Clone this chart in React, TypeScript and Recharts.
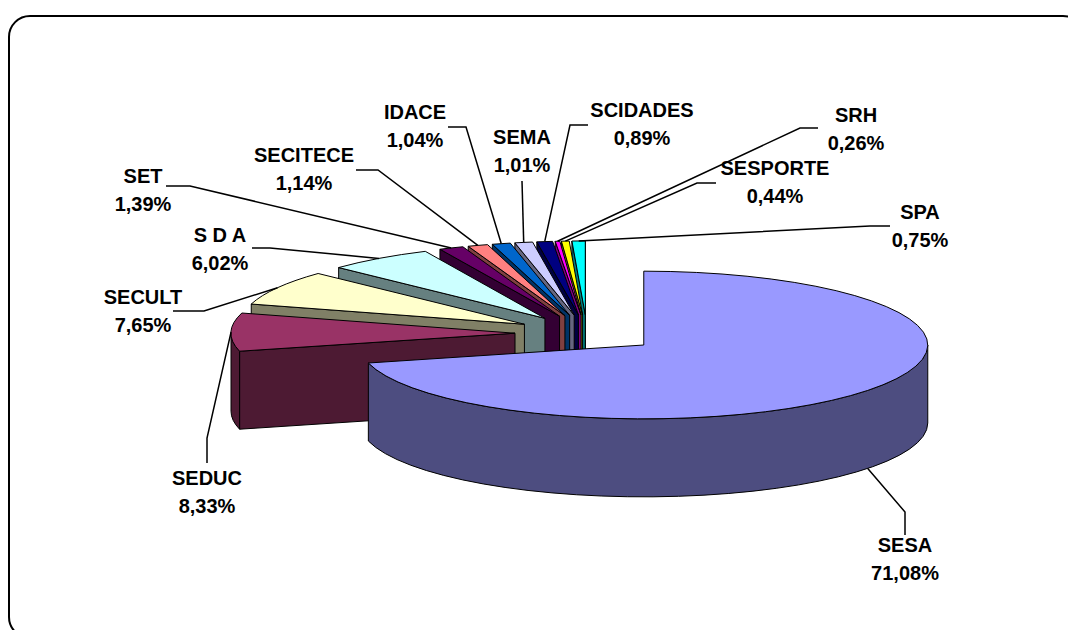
import { Pie, PieChart } from "recharts";

// drawn from the top of the stack to the front, so the list runs backwards round the pie
const names = ["SPA", "SESPORTE", "SRH", "SCIDADES", "SEMA", "IDACE", "SECITECE", "SET", "S D A", "SECULT", "SEDUC", "SESA"];
const shares = [0.75, 0.44, 0.26, 0.89, 1.01, 1.04, 1.14, 1.39, 6.02, 7.65, 8.33, 71.08];
const tops = ["#00FFFF", "#FFFF00", "#FF00FF", "#000080", "#CCCCFF", "#0066CC", "#FF8080", "#660066", "#CCFFFF", "#FFFFCC", "#993366", "#9999FF"];
const sides = ["#008080", "#808000", "#800080", "#000040", "#666680", "#003366", "#804040", "#330033", "#668080", "#808066", "#4D1A33", "#4D4D80"];

const rows = names.map((name, i) => ({ name, value: shares[i], top: tops[i], side: sides[i] }));

/* ---------- look of the tilted pie ---------- */
const WIDTH = 1068;
const HEIGHT = 630;
const CX = 587;
const CY = 333.5;
const RX = 284;
const SQUASH = 0.26;
const RY = RX * SQUASH;
const DEPTH = 78;
const EXPLODE = 72;

// label centre (x, y of the first line) and the elbow of its leader line
const labelSpots: Record<string, { x: number; y: number; line: number[][] }> = {
  SESA: { x: 905, y: 552, line: [[905, 535], [905, 512]] },
  SEDUC: { x: 207, y: 485, line: [[207, 463], [207, 438]] },
  SECULT: { x: 143, y: 304, line: [[173, 311], [204, 311]] },
  "S D A": { x: 220, y: 242, line: [[252, 248], [270, 248]] },
  SET: { x: 143, y: 183, line: [[166, 186], [190, 186]] },
  SECITECE: { x: 304, y: 162, line: [[356, 170], [378, 170]] },
  IDACE: { x: 415, y: 119, line: [[448, 127], [466, 127]] },
  SEMA: { x: 522, y: 144, line: [[522, 181], [522, 181]] },
  SCIDADES: { x: 642, y: 117, line: [[588, 125], [570, 125]] },
  SRH: { x: 856, y: 122, line: [[818, 128], [800, 128]] },
  SESPORTE: { x: 775, y: 175, line: [[716, 183], [697, 183]] },
  SPA: { x: 920, y: 219, line: [[890, 226], [870, 226]] },
};

const percent = (v: number) => `${v.toFixed(2).replace(".", ",")}%`;
const rad = (deg: number) => (deg * Math.PI) / 180;

const onRim = (ax: number, ay: number, deg: number) => [
  ax + RX * Math.cos(rad(deg)),
  ay - RY * Math.sin(rad(deg)),
];

const apexOf = (cx: number, cy: number, mid: number) => [
  cx + EXPLODE * Math.cos(rad(mid)),
  cy - EXPLODE * SQUASH * Math.sin(rad(mid)),
];

function Slice(props: any) {
  const { cx, cy, startAngle, endAngle, payload, name } = props;
  const a0 = Math.min(startAngle, endAngle);
  const a1 = Math.max(startAngle, endAngle);
  const row = payload ?? rows.find((r) => r.name === name);
  const [ax, ay] = apexOf(cx, cy, (a0 + a1) / 2);
  const [x0, y0] = onRim(ax, ay, a0);
  const [x1, y1] = onRim(ax, ay, a1);
  const big = a1 - a0 > 180 ? 1 : 0;

  // the part of the rim that faces the viewer is 180..360 degrees
  const f0 = Math.max(a0, 180);
  const f1 = Math.min(a1, 360);
  let rim = "";
  if (f1 > f0) {
    const [p0x, p0y] = onRim(ax, ay, f0);
    const [p1x, p1y] = onRim(ax, ay, f1);
    rim = `M${p0x},${p0y} A${RX},${RY} 0 0 0 ${p1x},${p1y} L${p1x},${p1y + DEPTH} A${RX},${RY} 0 0 1 ${p0x},${p0y + DEPTH} Z`;
  }

  const face = (x: number, y: number) =>
    `M${ax},${ay} L${x},${y} L${x},${y + DEPTH} L${ax},${ay + DEPTH} Z`;

  const common = { stroke: "#000", strokeWidth: 1, strokeLinejoin: "round" as const };
  return (
    <g>
      {Math.cos(rad(a0)) > 0 && <path d={face(x0, y0)} fill={row.side} {...common} />}
      {Math.cos(rad(a1)) < 0 && <path d={face(x1, y1)} fill={row.side} {...common} />}
      {rim && <path d={rim} fill={row.side} {...common} />}
      <path
        d={`M${ax},${ay} L${x0},${y0} A${RX},${RY} 0 ${big} 0 ${x1},${y1} Z`}
        fill={row.top}
        {...common}
      />
    </g>
  );
}

function SliceLabel(props: any) {
  const { cx, cy, midAngle, name, value } = props;
  const spot = labelSpots[name];
  if (!spot) return null;
  const [ax, ay] = apexOf(cx, cy, midAngle);
  const [ex, ey] = onRim(ax, ay, midAngle);
  const tip = midAngle > 180 && midAngle < 360 ? ey + DEPTH : ey;
  const pts = [...spot.line, [ex, tip]].map((p) => p.join(",")).join(" ");
  return (
    <g>
      <polyline points={pts} fill="none" stroke="#000" strokeWidth={1.5} />
      <text
        x={spot.x}
        y={spot.y}
        textAnchor="middle"
        fontFamily="Liberation Sans"
        fontWeight="bold"
        fontSize={20}
        fill="#000"
      >
        <tspan x={spot.x}>{name}</tspan>
        <tspan x={spot.x} dy={28}>{percent(value)}</tspan>
      </text>
    </g>
  );
}

export default function App() {
  return (
    <div style={{ position: "absolute", left: 0, top: 0, width: WIDTH, height: HEIGHT, overflow: "hidden", background: "#fff" }}>
      <div
        style={{
          position: "absolute",
          left: 8,
          top: 15,
          width: 1077,
          height: 624,
          boxSizing: "border-box",
          border: "2px solid #000",
          borderRadius: 22,
        }}
      />
      <PieChart
        width={WIDTH}
        height={HEIGHT}
        margin={{ top: 0, right: 0, bottom: 0, left: 0 }}
        style={{ position: "absolute", left: 0, top: 0 }}
      >
        <Pie
          data={rows}
          dataKey="value"
          nameKey="name"
          cx={CX}
          cy={CY}
          outerRadius={RX}
          startAngle={90}
          endAngle={450}
          shape={Slice}
          label={SliceLabel}
          labelLine={false}
          isAnimationActive={false}
        />
      </PieChart>
    </div>
  );
}
